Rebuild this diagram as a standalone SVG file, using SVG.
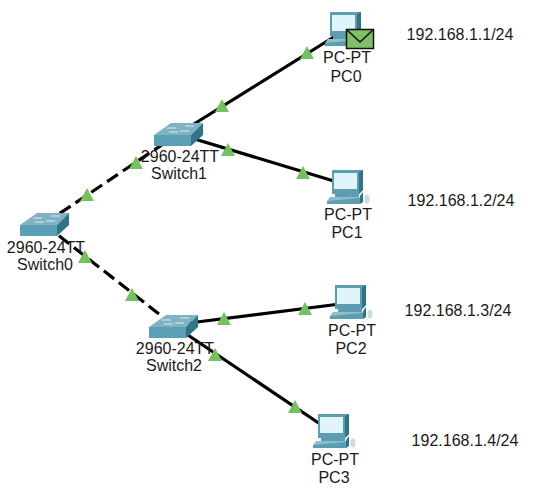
<svg xmlns="http://www.w3.org/2000/svg" width="536" height="490" viewBox="0 0 536 490">
<style>
text{font-family:"Liberation Sans",Arial,sans-serif;font-size:16px;fill:#1a1a1a;text-anchor:middle}
.l{stroke:#000;stroke-width:3.2;fill:none}
.d{stroke-dasharray:13 6}
.t{fill:#74c15f}
</style>
<defs>
<g id="sw">
<polygon points="0,12 17,0 49,0 37,12" fill="#7fb3c4"/>
<polygon points="0,12 37,12 37,23 0,23" fill="#5a9fb5"/>
<polygon points="37,12 49,0 49,12 37,23" fill="#2f7488"/>
<path d="M15,9H24M31,3H40M13,5H22M26,8H35" stroke="#dcecf0" stroke-width="1" fill="none"/>
</g>
<g id="pc">
<polygon points="5,0 36,0 36,20 32,24 5,24" fill="#5c9db2"/>
<polygon points="32,2 36,0 36,20 32,24" fill="#2f7488"/>
<rect x="7" y="3" width="23" height="16" fill="#dff4fb"/>
<rect x="8" y="24" width="24" height="3" fill="#5c9db2"/>
<polygon points="3,27 33,27 33,30 0,34 0,31" fill="#8fbecb"/>
<polygon points="0,31 33,28 33,34 0,34" fill="#5c9db2"/>
<polygon points="33,26 36,22 36,32 33,34" fill="#2f7488"/>
<ellipse cx="40" cy="29" rx="2.500" ry="4.500" fill="#c9dbe1"/>
</g>
<polygon id="tri" class="t" points="0,-7 7,6 -7,6"/>
</defs>
<g id="connectors">
<path class="l d" d="M44,224L178,134"/>
<path class="l d" d="M44,224L173,325"/>
<path class="l" d="M178,134L345,30"/>
<path class="l" d="M178,134L347,185"/>
<path class="l" d="M173,325L348,303"/>
<path class="l" d="M173,325L332,432"/>
<use href="#tri" x="87" y="195"/>
<use href="#tri" x="136" y="163"/>
<use href="#tri" x="85" y="257"/>
<use href="#tri" x="132" y="295"/>
<use href="#tri" x="222" y="106"/>
<use href="#tri" x="307" y="53"/>
<use href="#tri" x="228" y="150"/>
<use href="#tri" x="303" y="173"/>
<use href="#tri" x="224" y="319"/>
<use href="#tri" x="305" y="309"/>
<use href="#tri" x="215" y="355"/>
<use href="#tri" x="295" y="407"/>
</g>
<g id="Switch0"><use href="#sw" x="20" y="213"/><text x="46" y="253">2960-24TT</text><text x="45" y="270">Switch0</text></g>
<g id="Switch1"><use href="#sw" x="154" y="123"/><text x="180" y="162">2960-24TT</text><text x="179" y="179">Switch1</text></g>
<g id="Switch2"><use href="#sw" x="149" y="315"/><text x="175" y="354">2960-24TT</text><text x="174" y="371">Switch2</text></g>
<g id="PC0"><use href="#pc" x="325" y="12"/><text x="347" y="63">PC-PT</text><text x="346" y="82">PC0</text>
<rect x="346.500" y="29.500" width="27" height="19" fill="#7fbf65" stroke="#111" stroke-width="1.500"/><path d="M347,30L360,42L373,30" fill="none" stroke="#111" stroke-width="1.500"/></g>
<g id="PC1"><use href="#pc" x="327" y="170"/><text x="348" y="220">PC-PT</text><text x="347" y="238">PC1</text></g>
<g id="PC2"><use href="#pc" x="330" y="285"/><text x="352" y="336">PC-PT</text><text x="351" y="354">PC2</text></g>
<g id="PC3"><use href="#pc" x="313" y="414"/><text x="335" y="465">PC-PT</text><text x="334" y="483">PC3</text></g>
<text x="460" y="40">192.168.1.1/24</text>
<text x="461" y="206">192.168.1.2/24</text>
<text x="458" y="316">192.168.1.3/24</text>
<text x="465" y="446">192.168.1.4/24</text>
</svg>
